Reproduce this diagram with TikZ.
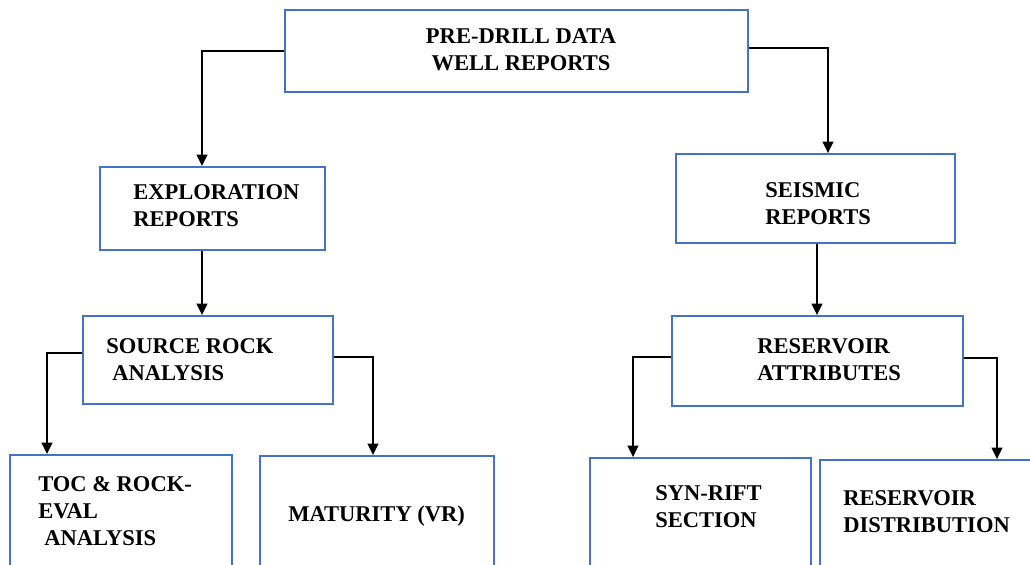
\documentclass[tikz,border=0pt]{standalone}
\usepackage{fontspec}
\setmainfont{Liberation Serif}
\usetikzlibrary{arrows.meta}
\definecolor{boxblue}{HTML}{4472C4}

\begin{document}
\begin{tikzpicture}[x=0.75pt,y=-0.75pt,
	box/.style 2 args={draw=boxblue, line width=1.4pt, fill=white,
		minimum width=#1*0.75pt, minimum height=#2*0.75pt, inner sep=0pt},
	txt/.style={anchor=west, align=left, inner sep=0pt,
		font=\bfseries\fontsize{16.9}{20.4}\selectfont},
	arr/.style={draw=black, line width=1.2pt, -{Triangle[length=8.5pt,width=8pt]}}]
	\useasboundingbox (0,0) rectangle (1030,564);
	\clip (0,0) rectangle (1030,564);

	\node[box={463}{82}] (top) at (516.5,51) {};
	\node[txt, anchor=center, align=center] (topt) at (521,50) {PRE-DRILL DATA\\WELL REPORTS};

	\node[box={225}{83}] (expl) at (212.5,208.5) {};
	\node[txt] (explt) at (133,206) {EXPLORATION\\REPORTS};

	\node[box={279}{89}] (seis) at (815.5,198.5) {};
	\node[txt] (seist) at (765,204) {SEISMIC\\REPORTS};

	\node[box={250}{88}] (src) at (208,360) {};
	\node[txt] (srct) at (106,360) {SOURCE ROCK\\\hspace*{4.5pt}ANALYSIS};

	\node[box={291}{90}] (resa) at (817.5,361) {};
	\node[txt] (resat) at (757,360) {RESERVOIR\\ATTRIBUTES};

	\node[box={222}{145}] (toc) at (121,527.5) {};
	\node[txt] (toct) at (38,511) {TOC \& ROCK-\\EVAL\\\hspace*{4.5pt}ANALYSIS};

	\node[box={234}{145}] (mat) at (377,528.5) {};
	\node[txt] (matt) at (288,516) {MATURITY (VR)};

	\node[box={221}{145}] (syn) at (700.5,530.5) {};
	\node[txt] (synt) at (655,507) {SYN-RIFT\\SECTION};

	\node[box={240}{145}] (rdist) at (940,532.5) {};
	\node[txt] (rdistt) at (843,512) {RESERVOIR\\DISTRIBUTION};

	\draw[arr] (top.west) -- (202,51) -- (202,0 |- expl.north);
	\draw[arr] (top.east |- 0,48) -- (828,48) -- (828,0 |- seis.north);
	\draw[arr] (202,0 |- expl.south) -- (202,0 |- src.north);
	\draw[arr] (817,0 |- seis.south) -- (817,0 |- resa.north);
	\draw[arr] (src.west |- 0,353) -- (47,353) -- (47,0 |- toc.north);
	\draw[arr] (src.east |- 0,357) -- (373,357) -- (373,0 |- mat.north);
	\draw[arr] (resa.west |- 0,357) -- (633,357) -- (633,0 |- syn.north);
	\draw[arr] (resa.east |- 0,358) -- (997,358) -- (997,0 |- rdist.north);
\end{tikzpicture}
\end{document}
